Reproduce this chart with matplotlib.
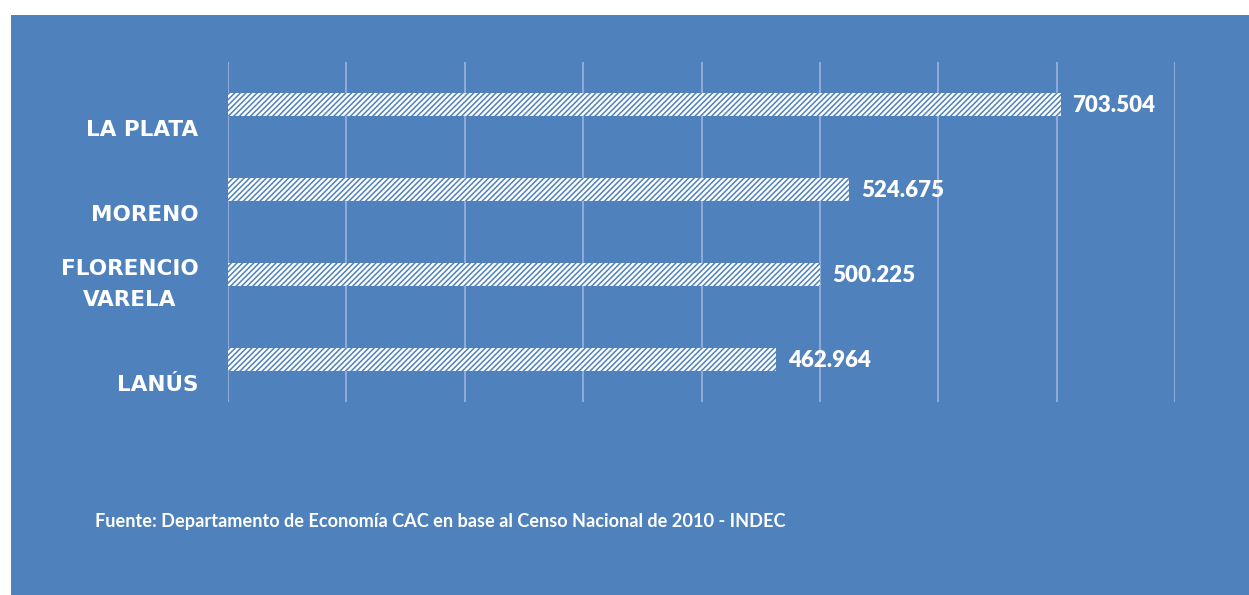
import matplotlib.pyplot as plt
from matplotlib.patches import Rectangle

# datos (miles de habitantes)
partidos = ["LA PLATA", "MORENO", "FLORENCIO\nVARELA", "LANÚS"]
poblacion = [703.504, 524.675, 500.225, 462.964]
etiquetas = ["703.504", "524.675", "500.225", "462.964"]
fuente = "Fuente: Departamento de Economía CAC en base al Censo Nacional de 2010 - INDEC"

azul = "#4F81BD"
grilla = "#8EAADB"

plt.rcParams["font.family"] = ["Lato", "DejaVu Sans"]
plt.rcParams["hatch.linewidth"] = 1.1

fig = plt.figure(figsize=(12.49, 5.95), dpi=100, facecolor="white")
fig.patches.append(Rectangle((11 / 1249, 0), 1, (595 - 15) / 595,
                             transform=fig.transFigure, facecolor=azul,
                             edgecolor="none", zorder=-5))

ax = fig.add_axes([228 / 1249, (595 - 402) / 595, (1175 - 228) / 1249, 340 / 595])
ax.set_facecolor("none")
ax.set_zorder(2)

pos = list(range(len(partidos)))
ax.barh(pos, poblacion, height=0.26, color="white", edgecolor=azul,
        hatch="//////", linewidth=0, zorder=3)

for y, v, t in zip(pos, poblacion, etiquetas):
    ax.text(v + 10, y + 0.01, t, color="white", fontsize=16, fontweight="heavy",
            va="center", ha="left")

for y, p in zip(pos, partidos):
    ax.text(-25, y + 0.37, p, color="white", fontsize=15.5, fontweight="bold",
            family="DejaVu Sans", ha="right", va="baseline",
            multialignment="center", linespacing=1.7)

ax.set_xlim(0, 800)
ax.set_ylim(3.5, -0.5)
ax.set_xticks(range(0, 801, 100))
ax.grid(axis="x", color=grilla, linewidth=1.5)
ax.set_axisbelow(True)
ax.tick_params(left=False, bottom=False, labelleft=False, labelbottom=False)
for s in ax.spines.values():
    s.set_visible(False)

fig.text(95 / 1249, (595 - 522) / 595, fuente, color="white", fontsize=13.1,
         fontweight="bold", va="center", ha="left", zorder=3)

fig.savefig("out.png", dpi=100, facecolor="white")
